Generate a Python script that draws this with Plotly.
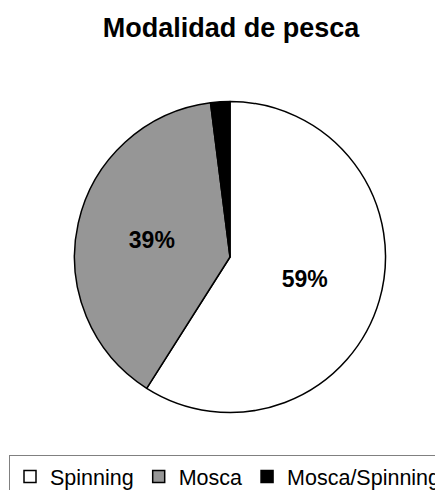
import plotly.graph_objects as go

labels = ["Spinning", "Mosca", "Mosca/Spinning"]
values = [59, 39, 2]
colors = ["#FFFFFF", "#969696", "#000000"]
shown_text = ["%{percent:.0%}", "%{percent:.0%}", ""]

# The page body adds an 8px margin, so figure coordinates are page coordinates - 8.
OFF = 8
W, H = 470, 500
cx, cy, r = 230 - OFF, 257 - OFF, 155.5

fig = go.Figure()
fig.add_trace(go.Pie(
    labels=labels,
    values=values,
    sort=False,
    direction="clockwise",
    rotation=0,
    marker=dict(colors=colors, line=dict(color="#000000", width=1.5)),
    texttemplate=shown_text,
    textposition="inside",
    insidetextorientation="horizontal",
    textfont=dict(family="Liberation Sans", size=23, color="#000000", weight="bold"),
    hoverinfo="label+percent",
    domain=dict(x=[(cx - r) / W, (cx + r) / W], y=[1 - (cy + r) / H, 1 - (cy - r) / H]),
))

fig.update_layout(
    width=W, height=H,
    margin=dict(l=0, r=0, t=0, b=0),
    paper_bgcolor="#FFFFFF",
    plot_bgcolor="#FFFFFF",
    font=dict(family="Liberation Sans", color="#000000"),
    title=dict(
        text="<b>Modalidad de pesca</b>",
        font=dict(family="Liberation Sans", size=27, color="#000000"),
        x=(231 - OFF) / W, xanchor="center",
        y=1 - (28 - OFF) / H, yanchor="middle", yref="container",
    ),
    showlegend=True,
    legend=dict(
        orientation="h",
        x=(9 - OFF) / W, xanchor="left",
        y=1 - (455 - OFF) / H, yanchor="top",
        bordercolor="#808080", borderwidth=1,
        bgcolor="#FFFFFF",
        font=dict(family="Liberation Sans", size=21.5, color="#000000"),
        traceorder="normal",
    ),
)

fig.write_html("out.html")
